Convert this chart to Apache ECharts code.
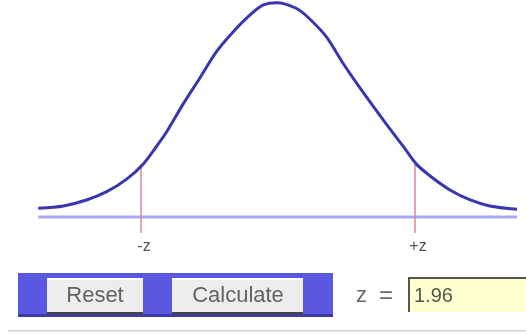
<!DOCTYPE html>
<html>
<head>
<meta charset="utf-8">
<script src="https://cdn.jsdelivr.net/npm/echarts@6/dist/echarts.min.js"></script>
<style>
  html, body { margin: 0; padding: 0; background: #ffffff; }
  #chart { width: 526px; height: 334px; }
</style>
</head>
<body>
<div id="chart"></div>
<script>
// Standard normal curve: z position and density height
const curveZ = [-3.43, -3.07, -2.74, -2.45, -2.17, -1.93, -1.71, -1.59, -1.36, -1.12, -0.88, -0.64, -0.40, -0.21, -0.02,
  0.26, 0.44, 0.69, 0.93, 1.16, 1.40, 1.59, 1.79, 1.98, 2.20, 2.46, 2.75, 3.03, 3.42];
const curveDensity = [0.0023, 0.0068, 0.0184, 0.0346, 0.0585, 0.0880, 0.128, 0.1515, 0.2040, 0.2548, 0.3064, 0.3452, 0.3777, 0.3971, 0.4016,
  0.3907, 0.3718, 0.3355, 0.2839, 0.2384, 0.1932, 0.1583, 0.1229, 0.0880, 0.0625, 0.0379, 0.0184, 0.0068, 0.0004];

// Critical value and the markers drawn at ±z
const zValue = 1.96;
const zTickLabels = ['-z', '+z'];
const zCurveHeight = 0.0880;
const zLineBottom = -0.0456;

// Horizontal reference line under the curve
const baselineZ = [-3.43, 3.42];
const baselineLevel = -0.0146;

const chart = echarts.init(document.getElementById('chart'), null, { renderer: 'canvas' });

const curveData = curveZ.map((z, i) => [z, curveDensity[i]]);
const baselineData = baselineZ.map(z => [z, baselineLevel]);

function zMarker(sign, text) {
  return {
    type: 'line',
    silent: true,
    showSymbol: true,
    symbolSize: 0,
    lineStyle: { color: '#dc8699', width: 1.5 },
    itemStyle: { color: '#dc8699' },
    data: [
      { value: [sign * zValue, zCurveHeight] },
      {
        value: [sign * zValue, zLineBottom],
        label: {
          show: true, position: 'bottom', distance: 6, offset: [3, 0],
          formatter: text, color: '#555555', fontSize: 16,
          fontFamily: '"Liberation Sans", Arial, sans-serif'
        }
      }
    ],
    z: 2
  };
}

const option = {
  backgroundColor: '#ffffff',
  animation: false,
  grid: { left: 33.35, right: 3.35, top: 0.9, bottom: 98.8 },
  xAxis: { type: 'value', min: -3.5, max: 3.5, show: false },
  yAxis: { type: 'value', min: -0.05, max: 0.405, show: false },
  series: [
    {
      type: 'line', silent: true, showSymbol: false,
      data: baselineData,
      lineStyle: { color: '#a9a7f2', width: 3 },
      z: 1
    },
    zMarker(-1, zTickLabels[0]),
    zMarker(1, zTickLabels[1]),
    {
      type: 'line', silent: true, showSymbol: false, smooth: 0.3,
      data: curveData,
      lineStyle: { color: '#3a36b0', width: 3 },
      z: 3
    }
  ],
  graphic: [
    // control bar
    { type: 'rect', shape: { x: 18, y: 273, width: 315, height: 44 }, style: { fill: '#5a58de' } },
    { type: 'rect', shape: { x: 18, y: 314, width: 315, height: 3 }, style: { fill: '#3d3ba6' } },
    // Reset button
    { type: 'rect', shape: { x: 47, y: 278, width: 96, height: 36 }, style: { fill: '#ededed' } },
    { type: 'rect', shape: { x: 47, y: 278, width: 96, height: 2 }, style: { fill: '#ffffff' } },
    { type: 'rect', shape: { x: 47, y: 312, width: 96, height: 2 }, style: { fill: '#444444' } },
    { type: 'text', x: 95, y: 296, style: { text: 'Reset', fill: '#636363', font: '22px "Liberation Sans", Arial, sans-serif', align: 'center', verticalAlign: 'middle' } },
    // Calculate button
    { type: 'rect', shape: { x: 172, y: 278, width: 131, height: 36 }, style: { fill: '#ededed' } },
    { type: 'rect', shape: { x: 172, y: 278, width: 131, height: 2 }, style: { fill: '#ffffff' } },
    { type: 'rect', shape: { x: 172, y: 312, width: 131, height: 2 }, style: { fill: '#444444' } },
    { type: 'text', x: 238, y: 296, style: { text: 'Calculate', fill: '#636363', font: '22px "Liberation Sans", Arial, sans-serif', align: 'center', verticalAlign: 'middle' } },
    // z entry
    { type: 'text', x: 356, y: 296, style: { text: 'z', fill: '#6a6a6a', font: '22px "Liberation Sans", Arial, sans-serif', align: 'left', verticalAlign: 'middle' } },
    { type: 'text', x: 379, y: 296, style: { text: '=', fill: '#6a6a6a', font: '24px "Liberation Sans", Arial, sans-serif', align: 'left', verticalAlign: 'middle' } },
    { type: 'rect', shape: { x: 408, y: 277, width: 118, height: 35 }, style: { fill: '#ffffd2' } },
    { type: 'rect', shape: { x: 408, y: 277, width: 118, height: 2 }, style: { fill: '#555555' } },
    { type: 'rect', shape: { x: 408, y: 277, width: 2, height: 35 }, style: { fill: '#555555' } },
    { type: 'text', x: 414, y: 296, style: { text: String(zValue), fill: '#4f5a4a', font: '20px "Liberation Sans", Arial, sans-serif', align: 'left', verticalAlign: 'middle' } },
    // separator line
    { type: 'rect', shape: { x: 8, y: 330, width: 518, height: 1.5 }, style: { fill: '#d4d4d4' } }
  ]
};

chart.setOption(option);
</script>
</body>
</html>
